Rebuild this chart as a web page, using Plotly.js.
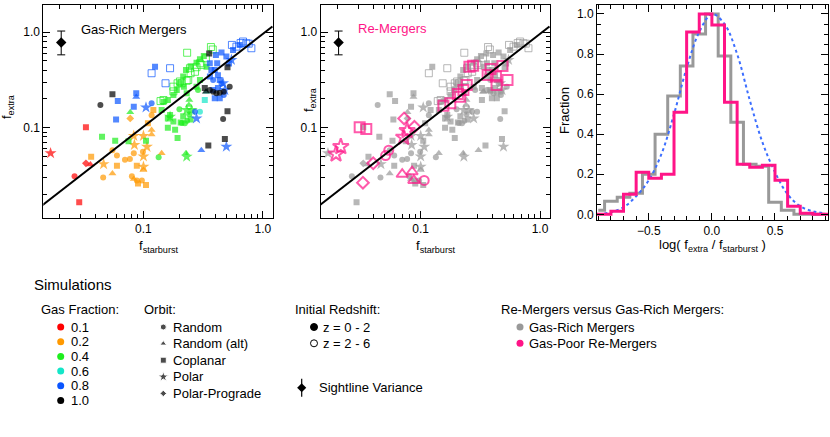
<!DOCTYPE html>
<html>
<head>
<meta charset="utf-8">
<script src="https://cdn.plot.ly/plotly-3.0.1.min.js"></script>
<style>html,body{margin:0;padding:0;background:#fff}#chart{width:830px;height:437px}</style>
</head>
<body>
<div id="chart"></div>
<script>
// orbit codes: R random, A random (alt), C coplanar, P polar, D polar-prograde
// "open" arrays are the z = 2-6 runs
var g01X = [0.0167,0.033,0.033,0.036,0.0265,0.029];
var g01Y = [0.054,0.101,0.0423,0.041,0.031,0.0165];
var g01Orbit = ['P','C','D','A','R','C'];

var g02X = [0.0365,0.046,0.0464,0.055,0.055,0.060,0.060,0.070,0.077,0.0775,0.083,0.083,0.088,0.090,0.088,0.083,0.097,0.099,0.100,0.100,0.100,0.100,0.107,0.105,0.109,0.117,0.117,0.117,0.121,0.142,0.084,0.080];
var g02Y = [0.0497,0.030,0.0415,0.058,0.033,0.040,0.051,0.046,0.047,0.125,0.082,0.054,0.040,0.026,0.028,0.029,0.028,0.056,0.082,0.050,0.039,0.036,0.063,0.025,0.111,0.0945,0.085,0.135,0.153,0.054,0.066,0.031];
var g02Orbit = ['C','R','P','R','A','C','R','R','R','D','P','R','C','C','R','A','R','R','P','P','P','A','P','C','C','A','A','R','C','A','P','R'];

var g04X = [0.045,0.058,0.075,0.105,0.193,0.134,0.0775,0.227,0.23,0.167,0.297,0.32,0.278,0.248,0.227,0.215,0.202,0.218,0.19,0.178,0.16,0.147,0.142,0.167,0.16,0.178,0.16,0.184,0.209,0.232,0.2,0.24,0.23,0.253,0.286,0.23,0.278,0.297,0.337,0.242,0.205,0.215,0.248,0.222,0.242];
var g04Y = [0.0805,0.073,0.072,0.073,0.078,0.049,0.145,0.054,0.0497,0.13,0.52,0.565,0.48,0.44,0.403,0.343,0.292,0.269,0.248,0.22,0.195,0.186,0.153,0.136,0.125,0.116,0.1,0.095,0.112,0.118,0.156,0.173,0.153,0.153,0.248,0.23,0.269,0.316,0.436,0.195,0.113,0.132,0.122,0.111,0.138];
var g04Orbit = ['C','C','C','C','C','R','A','A','P','P','C','C','C','C','C','C','C','C','C','C','C','C','C','C','C','C','C','C','R','R','R','A','P','P','R','C','C','C','C','A','C','C','C','R','R'];
var g04OpenX = [0.232,0.367,0.38,0.209,0.237,0.248,0.278,0.297,0.333,0.139,0.193,0.178,0.245,0.27,0.23,0.202,0.178,0.147,0.305];
var g04OpenY = [0.61,0.70,0.66,0.292,0.316,0.372,0.43,0.473,0.534,0.19,0.292,0.269,0.42,0.385,0.31,0.305,0.24,0.195,0.455];

var g06X = [0.337,0.326,0.297];
var g06Y = [0.238,0.195,0.147];
var g06Orbit = ['A','C','R'];

var g08X = [0.125,0.087,0.087,0.061,0.059,0.083,0.117,0.105,0.404,0.45,0.494,0.562,0.638,0.359,0.395,0.42,0.383,0.435,0.464,0.42,0.48,0.395,0.435,0.47,0.545,0.414,0.37,0.278,0.27,0.494,0.305,0.36,0.383,0.45,0.52];
var g08Y = [0.436,0.229,0.21,0.19,0.122,0.166,0.18,0.163,0.578,0.612,0.556,0.653,0.737,0.473,0.403,0.355,0.316,0.316,0.292,0.26,0.248,0.203,0.203,0.22,0.513,0.473,0.403,0.125,0.147,0.0632,0.058,0.343,0.248,0.29,0.47];
var g08Orbit = ['C','C','A','C','C','C','R','P','C','C','C','C','C','C','C','C','R','C','P','C','P','C','C','R','P','C','C','P','R','P','A','C','C','R','C'];
var g08OpenX = [0.117,0.167,0.153,0.726,0.80,0.60,0.681,0.55,0.76,0.65];
var g08OpenY = [0.372,0.42,0.292,0.767,0.68,0.707,0.80,0.737,0.76,0.77];

var g10X = [0.055,0.0436,0.349,0.48,0.505,0.464,0.505,0.326,0.359,0.383,0.408,0.435,0.47,0.527,0.333,0.355];
var g10Y = [0.224,0.173,0.065,0.076,0.149,0.123,0.43,0.26,0.248,0.238,0.229,0.232,0.238,0.269,0.238,0.60];
var g10Orbit = ['C','R','C','C','C','R','C','C','R','R','R','R','R','R','A','C'];

// gas-poor re-mergers
var remX = [0.0195,0.0214,0.0308,0.035,0.0328,0.040,0.0726,0.0886,0.0508,0.054,0.107,0.070,0.0847,0.0875,0.072,0.077,0.155,0.177,0.214,0.228,0.243,0.256,0.275,0.364,0.385,0.427,0.432,0.485,0.534,0.205];
var remY = [0.0528,0.0632,0.101,0.097,0.0265,0.0423,0.125,0.102,0.051,0.058,0.028,0.0325,0.0345,0.028,0.0792,0.093,0.170,0.180,0.211,0.248,0.280,0.436,0.447,0.357,0.413,0.343,0.28,0.444,0.316,0.226];
var remOrbit = ['P','P','C','C','D','D','D','D','R','R','R','A','A','A','P','P','C','C','C','C','C','C','C','C','C','C','C','C','C','C'];

// one-to-one style line and sightline variance
var fitX = [0.0141, 1.2];
var fitY = [0.0152, 1.15];
var sightX = [0.0205], sightY = [0.78], sightHi = [0.25], sightLo = [0.20];

// histograms of log(f_extra / f_starburst)
var grayBins = [-0.9,-0.8,-0.7,-0.6,-0.5,-0.4,-0.3,-0.2,-0.1,0.0,0.1,0.2,0.3,0.4,0.5,0.6,0.7,0.8,0.9];
var grayFrac = [0.02,0.065,0.085,0.105,0.20,0.40,0.59,0.74,0.90,1.0,0.79,0.46,0.25,0.24,0.06,0.02,0.0,0.0,0.0];
var pinkBins = [-0.95,-0.85,-0.75,-0.65,-0.55,-0.45,-0.35,-0.25,-0.15,-0.05,0.05,0.15,0.25,0.35,0.45,0.55,0.65,0.75,0.85,0.95];
var pinkFrac = [0.0,0.0,0.015,0.10,0.21,0.18,0.20,0.51,0.91,1.0,0.945,0.56,0.25,0.235,0.245,0.17,0.04,0.005,0.0,0.0];
var gaussX = [-0.9,-0.8,-0.7,-0.6,-0.5,-0.4,-0.3,-0.2,-0.1,0.0,0.1,0.2,0.3,0.4,0.5,0.6,0.7,0.8,0.9];
var gaussY = [0.0,0.01,0.035,0.09,0.17,0.30,0.50,0.73,0.91,1.0,0.95,0.80,0.57,0.36,0.21,0.10,0.04,0.015,0.005];

var gasLabels = ['0.1','0.2','0.4','0.6','0.8','1.0'];
var gasColors = ['#ff0000','#ff9900','#1eee1e','#14e6c8','#0a55ff','#000000'];
var orbitCodes = ['R','A','C','P','D'];
var orbitLabels = ['Random','Random (alt)','Coplanar','Polar','Polar-Prograde'];
var zLabels = ['z = 0 - 2','z = 2 - 6'];
var groupLabels = ['Gas-Rich Mergers','Gas-Poor Re-Mergers'];
var GRAY = '#999999', PINK = '#ff1487';
var FONT = 'Liberation Sans, Arial, Helvetica, sans-serif';

var symOf = {R:'circle', A:'triangle-up', C:'square', P:'star', D:'diamond'};
var sizeOf = {R:6, A:7, C:6, P:9, D:6};
var bigSize = {R:9, A:10, C:10, P:12, D:9};
var legSize = {R:6, A:6, C:6, P:8, D:5};

function pts(x, y, orbit, color, open, xa, ya, big) {
  return {
    type: 'scatter', mode: 'markers', x: x, y: y, xaxis: xa, yaxis: ya, hoverinfo: 'skip',
    marker: {
      color: color,
      symbol: orbit.map(function (o) { return symOf[o] + (open ? '-open' : ''); }),
      size: orbit.map(function (o) { return big ? bigSize[o] : (open ? sizeOf[o] + 1 : sizeOf[o]); }),
      line: {width: open ? (big ? 2 : 1) : 0, color: color}
    }
  };
}
function allC(arr) { return arr.map(function () { return 'C'; }); }

var groups = [
  [g01X, g01Y, g01Orbit, 0, false],
  [g02X, g02Y, g02Orbit, 1, false],
  [g04X, g04Y, g04Orbit, 2, false],
  [g04OpenX, g04OpenY, allC(g04OpenX), 2, true],
  [g06X, g06Y, g06Orbit, 3, false],
  [g08X, g08Y, g08Orbit, 4, false],
  [g08OpenX, g08OpenY, allC(g08OpenX), 4, true],
  [g10X, g10Y, g10Orbit, 5, false]
];

var data = [];
// left panel: colour by gas fraction
groups.forEach(function (g) { data.push(pts(g[0], g[1], g[2], gasColors[g[3]], g[4], 'x', 'y')); });
// middle panel: everything grey
groups.forEach(function (g) { data.push(pts(g[0], g[1], g[2], GRAY, g[4], 'x2', 'y2')); });
data.push(pts(remX, remY, remOrbit, PINK, true, 'x2', 'y2', true));

[['x', 'y'], ['x2', 'y2']].forEach(function (ax) {
  data.push({type: 'scatter', mode: 'lines', x: fitX, y: fitY, xaxis: ax[0], yaxis: ax[1],
    line: {color: '#000', width: 2}, hoverinfo: 'skip'});
  data.push({type: 'scatter', mode: 'markers', x: sightX, y: sightY, xaxis: ax[0], yaxis: ax[1],
    marker: {symbol: 'diamond', size: 8, color: '#000'}, hoverinfo: 'skip',
    error_y: {type: 'data', symmetric: false, array: sightHi, arrayminus: sightLo, width: 4, thickness: 1, color: '#000'}});
});

// right panel: histograms
data.push({type: 'scatter', mode: 'lines', x: grayBins, y: grayFrac, xaxis: 'x3', yaxis: 'y3',
  line: {shape: 'hvh', color: GRAY, width: 3}, hoverinfo: 'skip'});
data.push({type: 'scatter', mode: 'lines', x: gaussX, y: gaussY, xaxis: 'x3', yaxis: 'y3',
  line: {shape: 'spline', color: '#3c6eff', width: 2, dash: 'dot'}, hoverinfo: 'skip'});
data.push({type: 'scatter', mode: 'lines', x: pinkBins, y: pinkFrac, xaxis: 'x3', yaxis: 'y3',
  line: {shape: 'hvh', color: PINK, width: 3}, hoverinfo: 'skip'});

// legend block, drawn on a hidden pixel-like axis
var LX = 'x4', LY = 'y4';
function legRow(n, x0, y0, step) {
  return {x: Array(n).fill(x0), y: Array.from({length: n}, function (_, i) { return y0 + i * step; })};
}
var gasRow = legRow(gasLabels.length, 60.7, 327, 14.7);
var orbRow = legRow(orbitLabels.length, 163.3, 327, 16.6);
var zRow = legRow(zLabels.length, 314, 327, 16.3);
var grpRow = legRow(groupLabels.length, 520, 327, 16.3);

data.push({type: 'scatter', mode: 'markers', x: gasRow.x, y: gasRow.y, xaxis: LX, yaxis: LY,
  marker: {color: gasColors, size: 7, symbol: 'circle'}, hoverinfo: 'skip'});
data.push({type: 'scatter', mode: 'markers', x: orbRow.x, y: orbRow.y, xaxis: LX, yaxis: LY,
  marker: {color: '#000', symbol: orbitCodes.map(function (o) { return symOf[o]; }),
    size: orbitCodes.map(function (o) { return legSize[o]; })}, hoverinfo: 'skip'});
data.push({type: 'scatter', mode: 'markers', x: zRow.x, y: zRow.y, xaxis: LX, yaxis: LY,
  marker: {color: '#000', symbol: ['circle', 'circle-open'], size: 7, line: {width: 1, color: '#000'}}, hoverinfo: 'skip'});
data.push({type: 'scatter', mode: 'markers', x: [301.7], y: [387.7], xaxis: LX, yaxis: LY,
  marker: {color: '#000', symbol: 'diamond', size: 7},
  error_y: {type: 'constant', value: 9, width: 0, thickness: 1.2, color: '#000'}, hoverinfo: 'skip'});
data.push({type: 'scatter', mode: 'markers', x: grpRow.x, y: grpRow.y, xaxis: LX, yaxis: LY,
  marker: {color: [GRAY, PINK], size: 7, symbol: 'circle'}, hoverinfo: 'skip'});

function txt(x, y, s, opt) {
  var a = {xref: LX, yref: LY, x: x, y: y, text: s, showarrow: false, xanchor: 'left', yanchor: 'middle',
    font: {family: FONT, size: 13, color: '#000'}};
  for (var k in opt) a[k] = opt[k];
  return a;
}
var ann = [
  txt(32, 284, 'Simulations', {font: {family: FONT, size: 15, color: '#000'}}),
  txt(39, 309, 'Gas Fraction:'),
  txt(141.5, 309, 'Orbit:'),
  txt(293, 309, 'Initial Redshift:'),
  txt(498.5, 309, 'Re-Mergers versus Gas-Rich Mergers:'),
  txt(316.5, 387.7, 'Sightline Variance'),
  txt(79, 29, 'Gas-Rich Mergers'),
  txt(356, 28, 'Re-Mergers', {font: {family: FONT, size: 13, color: PINK}}),
  txt(7, 107, 'f<sub>extra</sub>', {xanchor: 'center', textangle: -90}),
  txt(309, 100, 'f<sub>extra</sub>', {xanchor: 'center', textangle: -90}),
  txt(564, 111, 'Fraction', {xanchor: 'center', textangle: -90}),
  txt(158, 246, 'f<sub>starburst</sub>', {xanchor: 'center'}),
  txt(435, 246, 'f<sub>starburst</sub>', {xanchor: 'center'}),
  txt(712, 245, 'log( f<sub>extra</sub> / f<sub>starburst</sub> )', {xanchor: 'center'})
];
gasLabels.forEach(function (s, i) { ann.push(txt(gasRow.x[i] + 8, gasRow.y[i], s)); });
orbitLabels.forEach(function (s, i) { ann.push(txt(orbRow.x[i] + 8, orbRow.y[i], s)); });
zLabels.forEach(function (s, i) { ann.push(txt(zRow.x[i] + 7, zRow.y[i], s)); });
groupLabels.forEach(function (s, i) { ann.push(txt(grpRow.x[i] + 7, grpRow.y[i], s)); });

var logMinor = [0.02,0.03,0.04,0.05,0.06,0.07,0.08,0.09,0.2,0.3,0.4,0.5,0.6,0.7,0.8,0.9];
function frame(extra) {
  var a = {showline: true, linecolor: '#000', linewidth: 1, mirror: 'ticks', ticks: 'inside',
    ticklen: 7, tickcolor: '#000', tickwidth: 1, showgrid: false, zeroline: false, fixedrange: true,
    tickfont: {family: FONT, size: 12, color: '#000'}};
  for (var k in extra) a[k] = extra[k];
  return a;
}
function logAx(domain, range, anchor) {
  return frame({type: 'log', domain: domain, range: range, anchor: anchor, tickmode: 'array',
    tickvals: [0.1, 1], ticktext: ['0.1', '1.0'],
    minor: {ticks: 'inside', ticklen: 4, tickcolor: '#000', tickmode: 'array', tickvals: logMinor, showgrid: false}});
}
var yDom = [0.5011, 0.9886];
var layout = {
  width: 830, height: 437, margin: {l: 0, r: 0, t: 0, b: 0},
  paper_bgcolor: '#fff', plot_bgcolor: 'rgba(0,0,0,0)', showlegend: false,
  font: {family: FONT, size: 12, color: '#000'},
  xaxis: logAx([0.0522, 0.3289], [-1.838, 0.084], 'y'),
  yaxis: logAx(yDom, [-1.947, 0.286], 'x'),
  xaxis2: logAx([0.3864, 0.6627], [-1.838, 0.084], 'y2'),
  yaxis2: logAx(yDom, [-1.947, 0.286], 'x2'),
  xaxis3: frame({domain: [0.7193, 0.9976], range: [-0.91, 0.92], anchor: 'y3', dtick: 0.5, tickformat: '.1f',
    minor: {ticks: 'inside', ticklen: 4, tickcolor: '#000', dtick: 0.1, showgrid: false}}),
  yaxis3: frame({domain: [0.4977, 0.9886], range: [-0.026, 1.045], anchor: 'x3', dtick: 0.2, tickformat: '.1f',
    minor: {ticks: 'inside', ticklen: 4, tickcolor: '#000', dtick: 0.05, showgrid: false}}),
  xaxis4: {domain: [0, 1], range: [0, 830], visible: false, fixedrange: true, anchor: 'y4'},
  yaxis4: {domain: [0, 1], range: [437, 0], visible: false, fixedrange: true, anchor: 'x4'},
  annotations: ann
};

Plotly.newPlot('chart', data, layout, {staticPlot: true});
</script>
</body>
</html>
